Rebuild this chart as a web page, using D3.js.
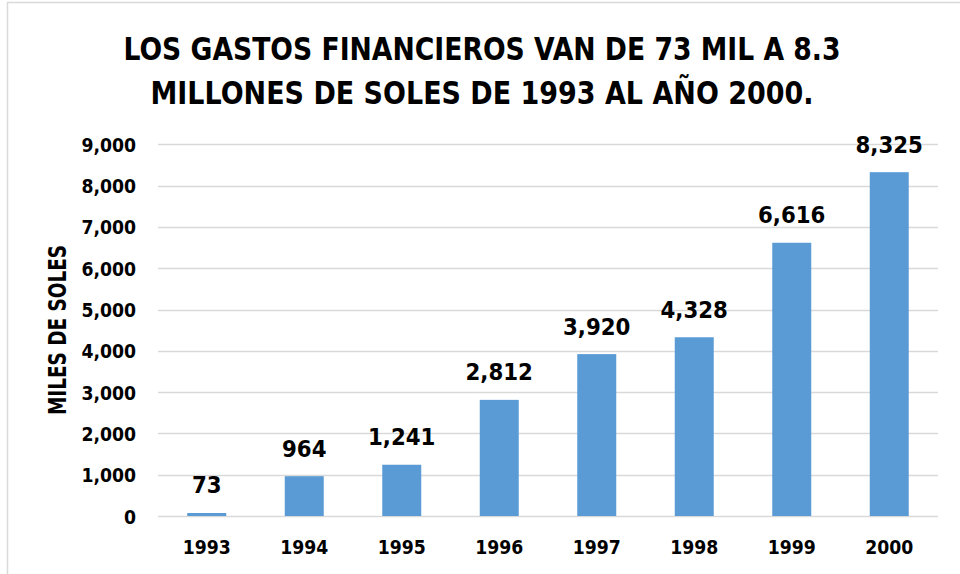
<!DOCTYPE html>
<html>
<head>
<meta charset="utf-8">
<script src="https://cdn.jsdelivr.net/npm/d3@7"></script>
<style>
  html, body { margin: 0; padding: 0; background: #fff; }
  svg { display: block; }
  text { font-family: "DejaVu Sans Condensed", "DejaVu Sans", sans-serif; font-stretch: condensed; font-weight: bold; fill: #000; }
</style>
</head>
<body>
<svg id="chart"></svg>
<script>
const years = ["1993", "1994", "1995", "1996", "1997", "1998", "1999", "2000"];
const gastos = [73, 964, 1241, 2812, 3920, 4328, 6616, 8325];
const yTicks = [0, 1000, 2000, 3000, 4000, 5000, 6000, 7000, 8000, 9000];
const titleLines = ["LOS GASTOS FINANCIEROS VAN DE 73 MIL A 8.3", "MILLONES DE SOLES DE 1993 AL AÑO 2000."];
const yTitle = "MILES DE SOLES";

const width = 960, height = 574;
const svg = d3.select("#chart").attr("width", width).attr("height", height);

// chart frame
svg.append("rect")
  .attr("x", 7.5).attr("y", 2.5)
  .attr("width", width + 10).attr("height", height + 10)
  .attr("fill", "none").attr("stroke", "#d9d9d9").attr("stroke-width", 1.5);

const x = d3.scaleBand().domain(years).range([158, 938]).paddingInner(0.6).paddingOuter(0.3);
const y = d3.scaleLinear().domain([0, 9000]).range([516, 144.3]);
const fmt = d3.format(",");

// title
const titleWidths = [717, 663];
svg.append("g").selectAll("text")
  .data(titleLines)
  .join("text")
  .attr("x", 482)
  .attr("y", (d, i) => 59.5 + i * 44)
  .attr("text-anchor", "middle")
  .attr("font-size", 31.5)
  .attr("textLength", (d, i) => titleWidths[i])
  .attr("lengthAdjust", "spacingAndGlyphs")
  .text(d => d);

// gridlines
svg.append("g").selectAll("line")
  .data(yTicks)
  .join("line")
  .attr("x1", 158).attr("x2", 938)
  .attr("y1", d => Math.round(y(d)) + 0.5).attr("y2", d => Math.round(y(d)) + 0.5)
  .attr("stroke", "#d9d9d9").attr("stroke-width", 1.3);

// y tick labels
svg.append("g").selectAll("text")
  .data(yTicks)
  .join("text")
  .attr("x", 136)
  .attr("y", d => y(d) + 7.5)
  .attr("text-anchor", "end")
  .attr("font-size", 19.2)
  .text(d => fmt(d));

// y title
svg.append("text")
  .attr("transform", "translate(66,330) rotate(-90)")
  .attr("text-anchor", "middle")
  .attr("font-size", 25)
  .attr("textLength", 170)
  .attr("lengthAdjust", "spacingAndGlyphs")
  .text(yTitle);

// bars
svg.append("g").selectAll("rect")
  .data(gastos)
  .join("rect")
  .attr("x", (d, i) => x(years[i]))
  .attr("width", x.bandwidth())
  .attr("y", d => y(d))
  .attr("height", d => y(0) - y(d))
  .attr("fill", "#5b9bd5");

// value labels
svg.append("g").selectAll("text")
  .data(gastos)
  .join("text")
  .attr("x", (d, i) => x(years[i]) + x.bandwidth() / 2)
  .attr("y", d => y(d) - 19.5)
  .attr("text-anchor", "middle")
  .attr("font-size", 23.7)
  .text(d => fmt(d));

// x labels
svg.append("g").selectAll("text")
  .data(years)
  .join("text")
  .attr("x", d => x(d) + x.bandwidth() / 2)
  .attr("y", 554)
  .attr("text-anchor", "middle")
  .attr("font-size", 19.2)
  .text(d => d);
</script>
</body>
</html>
